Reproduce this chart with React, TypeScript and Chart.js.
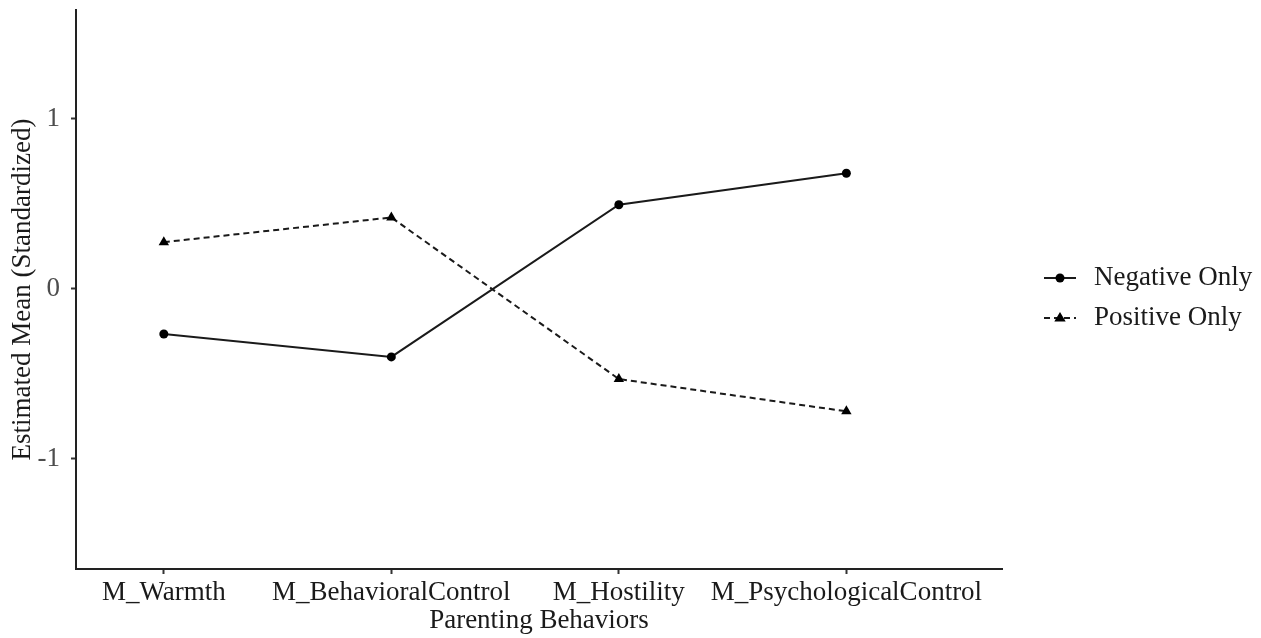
import React, { useEffect, useRef } from "react";
import { Chart, registerables } from "chart.js";

Chart.register(...registerables);

const categories = ["M_Warmth", "M_BehavioralControl", "M_Hostility", "M_PsychologicalControl"];
const negativeOnly = [-0.265, -0.40, 0.495, 0.68];
const positiveOnly = [0.275, 0.42, -0.53, -0.72];
const seriesNames = ["Negative Only", "Positive Only"];
const yTicks = [-1, 0, 1];

const FONT = "'Liberation Serif', 'Times New Roman', serif";
const FS = 27;

const legendPlugin = {
  id: "customLegend",
  afterDraw(chart: any) {
    const ctx = chart.ctx;
    const x0 = chart.chartArea.right + 42;
    const ys = [278, 318];
    chart.data.datasets.forEach((ds: any, i: number) => {
      const y = ys[i];
      ctx.save();
      ctx.strokeStyle = ds.borderColor;
      ctx.lineWidth = ds.borderWidth;
      ctx.setLineDash(ds.borderDash || []);
      ctx.beginPath();
      ctx.moveTo(x0, y);
      ctx.lineTo(x0 + 32, y);
      ctx.stroke();
      ctx.setLineDash([]);
      ctx.fillStyle = ds.pointBackgroundColor;
      const cx = x0 + 16;
      if (ds.pointStyle === "triangle") {
        const r = 6;
        ctx.beginPath();
        ctx.moveTo(cx, y - r);
        ctx.lineTo(cx + r * 0.95, y + r * 0.6);
        ctx.lineTo(cx - r * 0.95, y + r * 0.6);
        ctx.closePath();
        ctx.fill();
      } else {
        ctx.beginPath();
        ctx.arc(cx, y, 4.5, 0, Math.PI * 2);
        ctx.fill();
      }
      ctx.fillStyle = "#1a1a1a";
      ctx.font = `${FS}px ${FONT}`;
      ctx.textBaseline = "middle";
      ctx.textAlign = "left";
      ctx.fillText(ds.label, x0 + 50, y);
      ctx.restore();
    });
  },
};

export default function App() {
  const ref = useRef<HTMLCanvasElement>(null);
  useEffect(() => {
    if (!ref.current) return;
    const chart = new Chart(ref.current, {
      type: "line",
      data: {
        datasets: [
          {
            label: seriesNames[0],
            data: negativeOnly.map((v, i) => ({ x: i + 1, y: v })),
            borderColor: "#1a1a1a",
            backgroundColor: "#1a1a1a",
            pointBackgroundColor: "#000",
            pointBorderColor: "#000",
            borderWidth: 2,
            pointStyle: "circle",
            pointRadius: 4.5,
            pointBorderWidth: 0,
            tension: 0,
          },
          {
            label: seriesNames[1],
            data: positiveOnly.map((v, i) => ({ x: i + 1, y: v })),
            borderColor: "#1a1a1a",
            backgroundColor: "#1a1a1a",
            pointBackgroundColor: "#000",
            pointBorderColor: "#000",
            borderWidth: 2,
            borderDash: [6, 4],
            pointStyle: "triangle",
            pointRadius: 6,
            pointBorderWidth: 0,
            tension: 0,
          },
        ],
      },
      options: {
        animation: false,
        responsive: false,
        maintainAspectRatio: false,
        layout: { padding: { top: 10, right: 259, left: 0, bottom: 0 } },
        plugins: { legend: { display: false }, tooltip: { enabled: false } },
        scales: {
          x: {
            type: "linear",
            min: 0.614,
            max: 4.684,
            afterBuildTicks: (scale: any) => {
              scale.ticks = categories.map((_, i) => ({ value: i + 1 }));
            },
            afterFit: (scale: any) => {
              scale.height = 69;
              scale.paddingLeft = 0;
              scale.paddingRight = 0;
            },
            ticks: {
              autoSkip: false,
              maxRotation: 0,
              padding: 3,
              color: "#1a1a1a",
              font: { family: FONT, size: FS },
              callback: (v: any) => categories[Math.round(v) - 1] ?? "",
            },
            grid: { drawOnChartArea: false, drawTicks: true, tickLength: 5, tickColor: "#333", tickWidth: 2 },
            border: { display: true, color: "#222", width: 2 },
            title: {
              display: true,
              text: "Parenting Behaviors",
              color: "#1a1a1a",
              font: { family: FONT, size: FS },
              padding: { top: 0, bottom: 1 },
            },
          },
          y: {
            min: -1.647,
            max: 1.64,
            afterBuildTicks: (scale: any) => {
              scale.ticks = yTicks.map((v) => ({ value: v }));
            },
            afterFit: (scale: any) => {
              scale.width = 76;
              scale.paddingTop = 0;
              scale.paddingBottom = 0;
            },
            ticks: {
              padding: 11,
              color: "#4d4d4d",
              font: { family: FONT, size: FS },
              callback: (v: any) => String(v),
            },
            grid: { drawOnChartArea: false, drawTicks: true, tickLength: 5, tickColor: "#333", tickWidth: 2 },
            border: { display: true, color: "#222", width: 2 },
            title: {
              display: true,
              text: "Estimated Mean (Standardized)",
              color: "#1a1a1a",
              font: { family: FONT, size: FS },
              padding: { top: 7, bottom: 0 },
            },
          },
        },
      },
      plugins: [legendPlugin],
    } as any);
    return () => chart.destroy();
  }, []);
  return (
    <div style={{ position: "fixed", left: 0, top: 0, width: 1261, height: 638, background: "#fff" }}>
      <canvas ref={ref} width={1261} height={638} style={{ width: 1261, height: 638 }} />
    </div>
  );
}
